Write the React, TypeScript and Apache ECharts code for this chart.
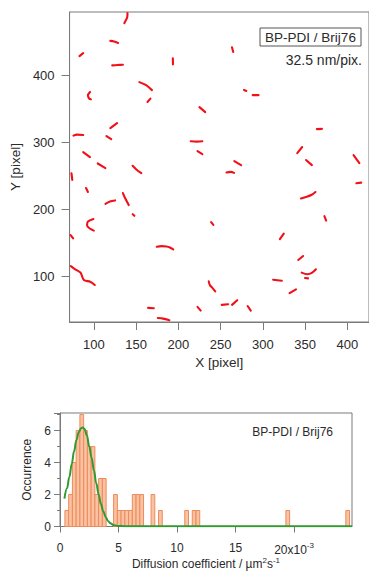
import React, { useEffect, useRef } from "react";
import * as echarts from "echarts";

// ---------- top panel: trajectories ----------
const xTicksTop = [100, 150, 200, 250, 300, 350, 400];
const yTicksTop = [100, 200, 300, 400];
const tracks: number[][][] = [
  [[139.8, 492.3], [139.5, 486.3], [137.3, 480.4], [136.1, 477.4]],
  [[119.5, 451], [124, 450], [128.7, 448]],
  [[83, 428.3], [87.4, 432.8]],
  [[121.8, 414.5], [128, 415], [134.4, 415.5]],
  [[193.5, 425], [193.7, 416]],
  [[153.9, 389.6], [161.9, 385], [168.8, 377.7]],
  [[163.5, 360], [167, 365]],
  [[95.5, 375], [93, 370], [94.5, 365], [96.5, 364]],
  [[119.5, 321.2], [127.5, 328.6]],
  [[75.9, 310], [80, 311.5], [87.4, 311]],
  [[114.9, 309.3], [120.6, 304.8]],
  [[87.4, 285.5], [95.4, 278]],
  [[104.6, 268.5], [113.7, 261.7]],
  [[145.9, 265], [150, 260], [156.2, 254]],
  [[73.5, 254], [74.5, 244]],
  [[263.5, 441.5], [265, 434.5]],
  [[277.8, 378], [280.5, 376.5]],
  [[288, 370.3], [295, 370.3]],
  [[225, 352.4], [231.9, 345]],
  [[214.7, 301.5], [222, 301], [228.4, 301.5]],
  [[222.7, 287], [228.4, 282.5]],
  [[340.8, 284], [346.6, 293]],
  [[364, 319.7], [370, 320]],
  [[351.2, 273.6], [358.1, 266.1]],
  [[266.3, 272], [274.3, 266]],
  [[257, 255], [262, 256], [266, 254.5]],
  [[407.4, 281], [414.3, 269]],
  [[90.8, 231.9], [93, 226]],
  [[113.7, 208.5], [119, 212], [125.2, 213.5]],
  [[134.4, 224.5], [137, 217], [141.3, 206.6]],
  [[146, 193], [148, 190.5]],
  [[99.5, 185.8], [93, 182], [92, 176], [96, 171], [100, 168.5]],
  [[72.5, 162], [75.5, 157]],
  [[174.5, 144.5], [180, 145.5], [186, 145], [190, 143.5], [194, 140.6]],
  [[72.8, 115.8], [78, 111], [84.3, 105.9], [88.2, 95], [95.7, 92.5], [101.1, 87.6]],
  [[164.2, 53.5], [171, 53]],
  [[175.7, 38.5], [182, 37.5], [189.4, 35]],
  [[345.1, 216.5], [352, 219], [358, 222], [362.3, 226]],
  [[410.8, 239], [416.5, 240]],
  [[238.8, 181.3], [241.5, 177]],
  [[372.9, 190], [375, 183.5]],
  [[320.2, 156], [324.8, 164.2]],
  [[342, 124.8], [347.7, 130.7]],
  [[346, 106], [352.6, 103.5], [358, 105.5], [362.9, 111]],
  [[350, 98], [353.5, 97.5]],
  [[312.2, 95.5], [322.5, 94]],
  [[331.7, 75.5], [339.3, 81]],
  [[236, 93], [237.5, 87], [240.5, 83], [243.7, 78]],
  [[251.4, 58], [259, 59]],
  [[263.6, 58], [269.7, 65]],
  [[282, 56.3], [285.8, 49.3]],
  [[222.7, 55], [226.5, 49.5]],
];

// ---------- bottom panel: histogram ----------
const binWidth = 0.32;
const binLeft = [
  0.42, 0.74, 1.06, 1.38, 1.7, 2.02, 2.34, 2.66, 2.98, 3.3, 3.62, 4.58, 4.9, 5.22,
  5.54, 5.86, 6.18, 6.5, 6.82, 7.78, 8.42, 10.66, 11.3, 11.62, 19.3, 24.42,
];
const binCount = [
  1, 2, 4, 6, 7, 6, 5, 5, 2, 3, 3, 2, 1, 1, 1, 1, 2, 2, 2, 2, 1, 1, 1, 1, 1, 1,
];
const fitX = [
  0.38, 0.6, 0.8, 1.0, 1.2, 1.4, 1.6, 1.8, 1.95, 2.1, 2.3, 2.5, 2.7, 2.9, 3.1,
  3.3, 3.5, 3.7, 3.9, 4.1, 4.3, 4.6, 5.0, 5.5, 24.95,
];
const fitY = [
  1.75, 2.4, 3.1, 3.9, 4.7, 5.4, 5.9, 6.15, 6.2, 6.1, 5.7, 5.0, 4.3, 3.5, 2.7,
  2.0, 1.4, 0.95, 0.6, 0.35, 0.2, 0.08, 0.03, 0.02, 0.02,
];
const histXTicks = [0, 5, 10, 15, 20];
const histYTicks = [0, 2, 4, 6];

const FONT = "'Liberation Sans', Arial, sans-serif";
const AXIS_COLOR = "#7a7a7a";
const TEXT_COLOR = "#2a2a2a";

export default function App() {
  const ref = useRef<HTMLDivElement>(null);

  useEffect(() => {
    if (!ref.current) return;
    const chart = echarts.init(ref.current, null, { renderer: "svg" });

    const trackSeries = tracks.map((t) => ({
      type: "line",
      xAxisIndex: 0,
      yAxisIndex: 0,
      data: t,
      showSymbol: false,
      symbol: "none",
      smooth: 0.3,
      lineStyle: { color: "#f01018", width: 2.1, cap: "round", join: "round" },
      silent: true,
      z: 3,
    }));

    const option: any = {
      animation: false,
      backgroundColor: "#ffffff",
      textStyle: { fontFamily: FONT },
      grid: [
        {
          left: 68,
          top: 12,
          width: 309,
          height: 310,
          show: true,
          borderColor: AXIS_COLOR,
          borderWidth: 1,
        },
        {
          left: 60,
          top: 413,
          width: 292,
          height: 115,
          show: true,
          borderColor: AXIS_COLOR,
          borderWidth: 1,
        },
      ],
      xAxis: [
        {
          type: "value",
          gridIndex: 0,
          min: 71.3,
          max: 425.7,
          name: "X [pixel]",
          nameLocation: "middle",
          nameGap: 33,
          nameTextStyle: { fontSize: 13.5, color: TEXT_COLOR, fontFamily: FONT },
          axisLine: { show: true, lineStyle: { color: AXIS_COLOR } },
          axisTick: { show: true, length: 8, customValues: xTicksTop, lineStyle: { color: AXIS_COLOR } },
          axisLabel: { customValues: xTicksTop, fontSize: 13, color: TEXT_COLOR, margin: 16, fontFamily: FONT },
          splitLine: { show: false },
        },
        {
          type: "value",
          gridIndex: 1,
          min: 0,
          max: 24.95,
          offset: 3,
          name: "Diffusion coefficient / µm{sup|2}s{sup|-1}",
          nameLocation: "middle",
          nameGap: 27,
          nameTextStyle: {
            fontSize: 12,
            color: TEXT_COLOR,
            fontFamily: FONT,
            rich: { sup: { fontSize: 8, color: TEXT_COLOR, padding: [0, 0, 7, 0], fontFamily: FONT } },
          },
          axisLine: { show: true, lineStyle: { color: AXIS_COLOR } },
          axisTick: { show: true, length: 6, customValues: histXTicks, lineStyle: { color: AXIS_COLOR } },
          axisLabel: {
            customValues: histXTicks,
            fontSize: 12,
            color: TEXT_COLOR,
            margin: 12,
            fontFamily: FONT,
            formatter: (v: number) => (v === 20 ? "{b|20x10}{sup|-3}" : String(v)),
            rich: {
              b: { fontSize: 12, color: TEXT_COLOR, fontFamily: FONT },
              sup: { fontSize: 8, color: TEXT_COLOR, padding: [0, 0, 8, 0], fontFamily: FONT },
            },
          },
          splitLine: { show: false },
        },
      ],
      yAxis: [
        {
          type: "value",
          gridIndex: 0,
          min: 32.5,
          max: 494,
          name: "Y [pixel]",
          nameLocation: "middle",
          nameGap: 39,
          nameTextStyle: { fontSize: 13.5, color: TEXT_COLOR, fontFamily: FONT },
          axisLine: { show: true, lineStyle: { color: AXIS_COLOR } },
          axisTick: { show: true, length: 8, customValues: yTicksTop, lineStyle: { color: AXIS_COLOR } },
          axisLabel: { customValues: yTicksTop, fontSize: 13, color: TEXT_COLOR, margin: 15, fontFamily: FONT },
          splitLine: { show: false },
        },
        {
          type: "value",
          gridIndex: 1,
          min: 0,
          max: 7.1,
          interval: 2,
          name: "Occurrence",
          nameLocation: "middle",
          nameGap: 26,
          nameTextStyle: { fontSize: 12, color: TEXT_COLOR, fontFamily: FONT },
          axisLine: { show: true, lineStyle: { color: AXIS_COLOR } },
          axisTick: { show: true, length: 6, lineStyle: { color: AXIS_COLOR } },
          minorTick: { show: true, splitNumber: 2, length: 3, lineStyle: { color: AXIS_COLOR } },
          axisLabel: {
            customValues: histYTicks,
            fontSize: 12,
            color: TEXT_COLOR,
            margin: 9,
            fontFamily: FONT,
          },
          splitLine: { show: false },
        },
      ],
      series: [
        ...trackSeries,
        {
          type: "custom",
          xAxisIndex: 1,
          yAxisIndex: 1,
          data: binLeft.map((l, i) => [l, l + binWidth, binCount[i]]),
          encode: { x: [0, 1], y: 2 },
          renderItem: (params: any, api: any) => {
            const l = api.value(0);
            const r = api.value(1);
            const c = api.value(2);
            const p0 = api.coord([l, c]);
            const p1 = api.coord([r, 0]);
            return {
              type: "rect",
              shape: { x: p0[0], y: p0[1], width: p1[0] - p0[0], height: p1[1] - p0[1] },
              style: { fill: "#f9c2a1", stroke: "#ef8a5c", lineWidth: 1 },
            };
          },
          z: 2,
          silent: true,
        },
        {
          type: "line",
          xAxisIndex: 1,
          yAxisIndex: 1,
          data: fitX.map((x, i) => [x, fitY[i]]),
          showSymbol: false,
          symbol: "none",
          smooth: 0.4,
          smoothMonotone: "x",
          lineStyle: { color: "#2f9a2f", width: 2 },
          z: 4,
          silent: true,
        },
      ],
      graphic: [
        {
          type: "rect",
          shape: { x: 260, y: 28, width: 101, height: 18 },
          style: { fill: "#ffffff", stroke: "#555555", lineWidth: 1 },
          z: 10,
        },
        {
          type: "text",
          x: 310.5,
          y: 37,
          style: {
            text: "BP-PDI / Brij76",
            fontSize: 13.5,
            fontFamily: FONT,
            fill: TEXT_COLOR,
            align: "center",
            verticalAlign: "middle",
          },
          z: 11,
        },
        {
          type: "text",
          x: 362,
          y: 60,
          style: {
            text: "32.5 nm/pix.",
            fontSize: 14,
            fontFamily: FONT,
            fill: TEXT_COLOR,
            align: "right",
            verticalAlign: "middle",
          },
          z: 11,
        },
        {
          type: "text",
          x: 333,
          y: 432,
          style: {
            text: "BP-PDI / Brij76",
            fontSize: 12,
            fontFamily: FONT,
            fill: TEXT_COLOR,
            align: "right",
            verticalAlign: "middle",
          },
          z: 11,
        },
      ],
    };

    chart.setOption(option);
    return () => {
      chart.dispose();
    };
  }, []);

  return (
    <div
      ref={ref}
      style={{
        position: "fixed",
        left: 0,
        top: 0,
        width: 369,
        height: 571,
        background: "#ffffff",
        overflow: "hidden",
      }}
    />
  );
}
